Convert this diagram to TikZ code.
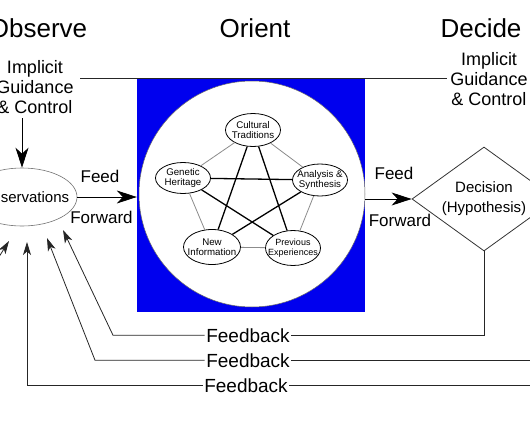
\documentclass[tikz,border=0pt]{standalone}
\usepackage{fontspec}
\setmainfont{Liberation Sans}
\usetikzlibrary{arrows.meta,shapes.geometric}
\definecolor{boxblue}{RGB}{0,0,238}
\begin{document}
\begin{tikzpicture}[x=1pt,y=-1pt,
  title/.style={font=\fontsize{26}{30}\selectfont, anchor=base, inner sep=0},
  big/.style={font=\fontsize{18}{20}\selectfont, align=center, inner sep=0, anchor=north},
  lbl/.style={font=\fontsize{17}{20}\selectfont, anchor=base, inner sep=0},
  fbtext/.style={font=\fontsize{19}{22}\selectfont, anchor=base, inner sep=1.5pt},
  inner/.style={ellipse, draw, line width=0.8pt, fill=white, minimum width=55pt, minimum height=33pt, inner sep=0pt},
  itext/.style={font=\fontsize{9.7}{10.5}\selectfont, align=center, inner sep=0pt},
  star/.style={line width=1.3pt},
  pent/.style={draw=black!45, line width=0.8pt},
  bigarr/.style={line width=0.8pt, -{Stealth[length=20pt,width=13pt,inset=6pt]}},
  fbarr/.style={line width=0.8pt, -{Stealth[length=13pt,width=8pt,inset=3.5pt]}},
  fb/.style={line width=0.8pt, draw=black!85},
  ]
\useasboundingbox (0,0) rectangle (530,442);
\clip (0,0) rectangle (530,442);

% titles
\node[title] (tobs) at (38,37) {Observe};
\node[title] (tori) at (255,37) {Orient};
\node[title] (tdec) at (481,37) {Decide};

% implicit guidance
\node[big] (impL) at (35,60) {Implicit\\Guidance\\\& Control};
\node[big] (impR) at (489,52) {Implicit\\Guidance\\\& Control};
\coordinate (gl) at (80,78);
\coordinate (gr) at (447,78);

% orient box
\node[rectangle, fill=boxblue, minimum width=228pt, minimum height=233pt, inner sep=0] (box) at (251,195.5) {};
\node[circle, fill=white, draw=black!60, line width=0.5pt, minimum size=226pt, inner sep=0] (circ) at (252,194) {};
\draw[fb] (gl) -- (gr);

% inner ellipses
\node[inner] (cul) at (253,130) {};
\node[inner, minimum height=31pt] (gen) at (183,178) {};
\node[inner, minimum height=32pt] (ana) at (320,180) {};
\node[inner, minimum width=57pt, minimum height=35pt] (new) at (212,247) {};
\node[inner, minimum height=35pt] (pre) at (293,248) {};
\node[itext] (culT) at (cul) {Cultural\\Traditions};
\node[itext] (genT) at (gen) {Genetic\\Heritage};
\node[itext] (anaT) at (ana) {Analysis \&\\Synthesis};
\node[itext] (newT) at (new) {New\\Information};
\node[itext, font=\fontsize{9}{10}\selectfont] (preT) at (pre) {Previous\\Experiences};

\draw[pent] (cul) -- (gen);
\draw[pent] (cul) -- (ana);
\draw[pent] (gen) -- (new);
\draw[pent] (ana) -- (pre);
\draw[pent] (new) -- (pre);
\draw[star] (cul) -- (new);
\draw[star] (cul) -- (pre);
\draw[star] (gen) -- (ana);
\draw[star] (gen) -- (pre);
\draw[star] (ana) -- (new);

% observations
\node[ellipse, draw=black!55, line width=0.6pt, minimum width=110pt, minimum height=58pt, inner sep=0] (obs) at (22,197) {};
\node[font=\fontsize{15}{18}\selectfont, inner sep=0] (obsT) at (25,197) {Observations};
\coordinate (dtop) at (22,118);
\draw[bigarr] (dtop) -- (obs.north);

% decision
\node[diamond, draw=black!80, line width=0.8pt, minimum width=144pt, minimum height=104pt, inner sep=0] (dec) at (484,199) {};
\node[font=\fontsize{15}{20}\selectfont, align=center, inner sep=0] (decT) at (484,199) {Decision\\(Hypothesis)};

% feed forward
\draw[bigarr] (obs.east) -- (obs.east -| box.west);
\node[lbl] (ff1a) at (100,182) {Feed};
\node[lbl] (ff1b) at (101.5,223) {Forward};
\draw[bigarr] (box.east |- dec.west) -- (dec.west);
\node[lbl] (ff2a) at (394,179) {Feed};
\node[lbl] (ff2b) at (400,226) {Forward};

% feedback
\node[fbtext] (fb1) at (248,342) {Feedback};
\node[fbtext] (fb2) at (248,367) {Feedback};
\node[fbtext] (fb3) at (246,392) {Feedback};
\coordinate (rr) at (535,0);
\coordinate (c1) at (113,0);
\coordinate (t1) at (63,230);
\coordinate (c2) at (95,0);
\coordinate (t2) at (47,238);
\coordinate (c3) at (27,0);
\coordinate (t3) at (27,242);
\coordinate (c4) at (-22,290);
\coordinate (t4) at (9,241);

\draw[fb] (dec.south) |- (fb1.east);
\draw[fb, fbarr] (fb1.west) -- (fb1.west -| c1) -- (t1);
\draw[fb] (fb2.east) -- (fb2.east -| rr);
\draw[fb, fbarr] (fb2.west) -- (fb2.west -| c2) -- (t2);
\draw[fb] (fb3.east) -- (fb3.east -| rr);
\draw[fb, fbarr] (fb3.west) -- (fb3.west -| c3) -- (t3);
\draw[fb, fbarr] (c4) -- (t4);
\end{tikzpicture}
\end{document}
